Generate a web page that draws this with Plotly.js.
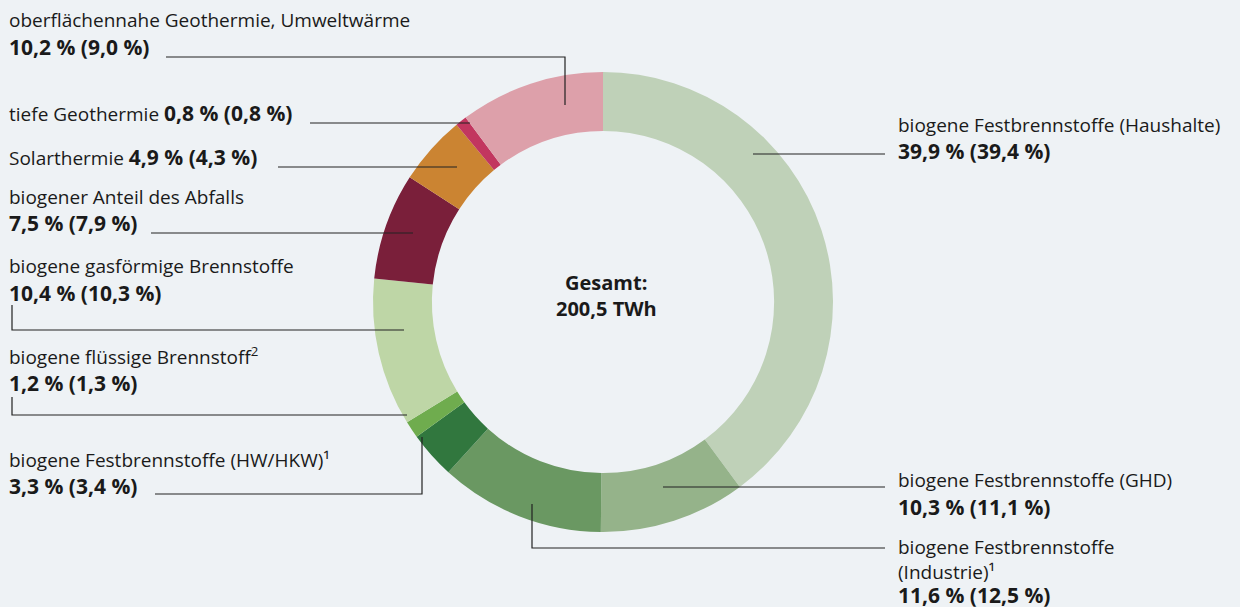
<!DOCTYPE html>
<html><head><meta charset="utf-8">
<script src="https://cdn.plot.ly/plotly-3.0.1.min.js"></script>
<style>html,body{margin:0;padding:0;background:#eef2f5;}</style>
</head><body>
<div id="chart" style="width:1240px;height:607px;"></div>
<script>
const categories = [
  "biogene Festbrennstoffe (Haushalte)",
  "biogene Festbrennstoffe (GHD)",
  "biogene Festbrennstoffe (Industrie)¹",
  "biogene Festbrennstoffe (HW/HKW)¹",
  "biogene flüssige Brennstoff²",
  "biogene gasförmige Brennstoffe",
  "biogener Anteil des Abfalls",
  "Solarthermie",
  "tiefe Geothermie",
  "oberflächennahe Geothermie, Umweltwärme"
];
const shares2023 = [39.9, 10.3, 11.6, 3.3, 1.2, 10.4, 7.5, 4.9, 0.8, 10.2];
const sharesPrev = [39.4, 11.1, 12.5, 3.4, 1.3, 10.3, 7.9, 4.3, 0.8, 9.0];
const colors = ["#bfd1b8","#95b38a","#6a9862","#31773e","#6fac4e","#bed6a6","#7a1f3a","#cb8432","#c2365f","#dda0aa"];
const totalLabel = "200,5 TWh";

const W = 1240, H = 607;
const px = x => x / W, py = y => 1 - y / H;
const fmt = v => v.toFixed(1).replace('.', ',') + ' %';
const B = s => '<span style="font-weight:bold;font-size:21px">' + s + '</span>';
const val = i => B(fmt(shares2023[i]) + ' (' + fmt(sharesPrev[i]) + ')');
const FONT = "Open Sans, sans-serif";
const TXT = "#1a1a1a";

const ann = [];
function t(x, y, text, anchor, size) {
  ann.push({xref:'paper', yref:'paper', x:px(x), y:py(y), text:text, showarrow:false,
    xanchor:anchor||'left', yanchor:'middle', align:anchor==='center'?'center':'left',
    borderpad:0,
    font:{family:FONT, size:size||19, color:TXT}});
}
// left labels
t(8, 20, "oberflächennahe Geothermie, Umweltwärme");
t(8, 47, val(9));
t(8, 113, "tiefe Geothermie " + val(8));
t(8, 157, "Solarthermie " + val(7));
t(8, 197, "biogener Anteil des Abfalls");
t(8, 223, val(6));
t(8, 266, "biogene gasförmige Brennstoffe");
t(8, 293, val(5));
t(8, 356, "biogene flüssige Brennstoff<sup>2</sup>");
t(8, 383, val(4));
t(8, 460, "biogene Festbrennstoffe (HW/HKW)¹");
t(8, 486, val(3));
// right labels
t(897, 125, "biogene Festbrennstoffe (Haushalte)");
t(897, 151, val(0));
t(897, 480, "biogene Festbrennstoffe (GHD)");
t(897, 507, val(1));
t(897, 571, "biogene Festbrennstoffe<br>(Industrie)¹<br>" + val(2));
// center
t(606, 282, "<b>Gesamt:</b>", 'center', 20);
t(606, 308, "<b>" + totalLabel + "</b>", 'center', 20);

const shapes = [];
function path(pts) {
  let d = pts.map((p,i) => (i?'L':'M') + px(p[0]) + ',' + py(p[1])).join(' ');
  shapes.push({type:'path', xref:'paper', yref:'paper', path:d, line:{color:'#222', width:1.2}});
}
path([[166,57],[565,57],[565,105]]);
path([[310,123],[470,123]]);
path([[278,167],[457,167]]);
path([[151,233],[413,233]]);
path([[12,305],[12,330],[404,330]]);
path([[12,397],[12,415],[407,415]]);
path([[155,494],[422,494],[422,437]]);
path([[753,154],[885,154]]);
path([[663,487],[885,487]]);
path([[532,504],[532,548],[885,548]]);

const cx = 603, cy = 302, R = 230;
const data = [{
  type:'pie', labels:categories, values:shares2023, sort:false, direction:'clockwise', rotation:0,
  hole:0.744, marker:{colors:colors, line:{width:0}}, textinfo:'none', hoverinfo:'label+value',
  domain:{x:[px(cx-R), px(cx+R)], y:[py(cy+R), py(cy-R)]}, showlegend:false
}];
const layout = {
  width:W, height:H, margin:{l:0,r:0,t:0,b:0},
  paper_bgcolor:'#eef2f5', plot_bgcolor:'#eef2f5',
  showlegend:false, annotations:ann, shapes:shapes
};
Plotly.newPlot('chart', data, layout, {displayModeBar:false, staticPlot:true});
</script>
</body></html>
